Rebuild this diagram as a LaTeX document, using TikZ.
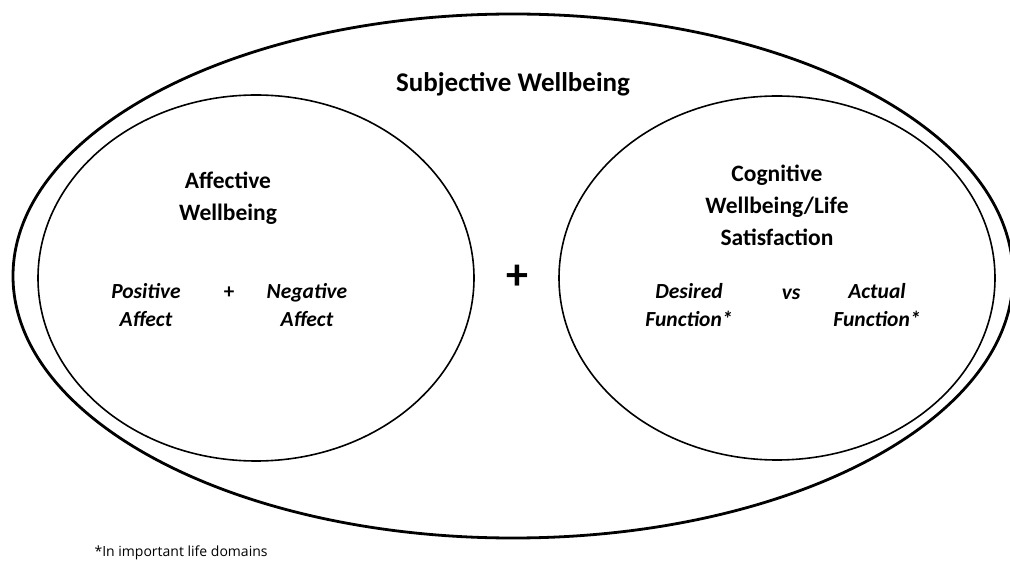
\documentclass[tikz,border=0pt]{standalone}
\usepackage{fontspec}
\setmainfont{Carlito}
\newfontfamily\notefont{Open Sans}
\tikzset{
  outerring/.style={line width=2.8pt},
  innerring/.style={line width=1.6pt},
  titletext/.style={font=\bfseries\fontsize{27}{30}\selectfont, align=center},
  headtext/.style={font=\bfseries\fontsize{23.5}{32}\selectfont, align=center},
  parttext/.style={font=\bfseries\itshape\fontsize{21.5}{28}\selectfont, align=center},
}
\begin{document}
\begin{tikzpicture}[x=1pt,y=1pt,yscale=-1,xscale=1]
\useasboundingbox (0,0) rectangle (1010,561);

%Shape: Ellipse [id:swb]
\draw [outerring] (513,276) ellipse [x radius=500, y radius=262];
%Shape: Ellipse [id:affective]
\draw [innerring] (256,278) ellipse [x radius=218, y radius=183];
%Shape: Ellipse [id:cognitive]
\draw [innerring] (777,278) ellipse [x radius=218, y radius=182];

% Text Node
\node [titletext] (swb) at (513,84) {Subjective Wellbeing};
% Text Node
\node [headtext] (aff) at (228,198) {Affective\\Wellbeing};
% Text Node
\node [parttext] (pos) at (146,305) {Positive\\Affect};
% Text Node
\node [font=\bfseries\fontsize{21}{24}\selectfont] (plusa) at (229,293) {+};
% Text Node
\node [parttext] (neg) at (307,305) {Negative\\Affect};
% Text Node
\node [font=\bfseries\fontsize{44}{48}\selectfont] (plus) at (517,277) {+};
% Text Node
\node [headtext] (cog) at (777,205) {Cognitive\\Wellbeing/Life\\Satisfaction};
% Text Node
\node [parttext] (des) at (689,305) {Desired\\Function*};
% Text Node
\node [parttext] (vs) at (791,294) {vs};
% Text Node
\node [parttext] (act) at (877,305) {Actual\\Function*};
% Text Node
\node [font=\notefont\fontsize{14}{18}\selectfont, anchor=west] (note) at (91,553) {*In important life domains};

\end{tikzpicture}
\end{document}
